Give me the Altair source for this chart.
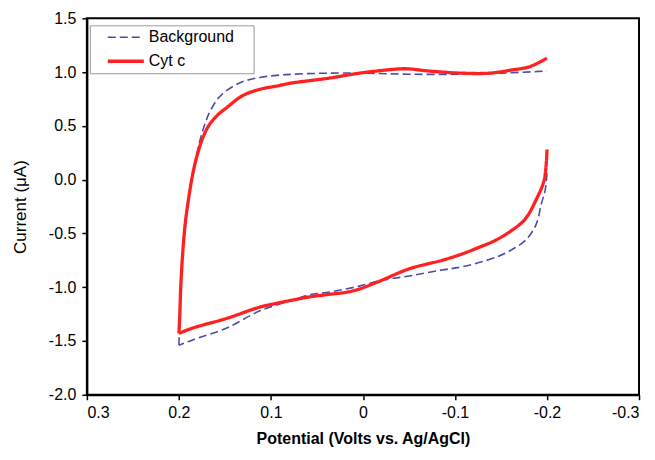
import altair as alt
import pandas as pd

series_names = ["Background", "Cyt c"]

# Background (dashed): lower branch from -0.2 V to 0.2 V
bg_low_x = [-0.200, -0.198, -0.194, -0.188, -0.177, -0.162, -0.145, -0.108, -0.086, -0.054,
            -0.032, -0.018, 0.004, 0.040, 0.058, 0.0765, 0.112, 0.148, 0.185, 0.200]
bg_low_y = [0.06, -0.10, -0.22, -0.42, -0.56, -0.65, -0.72, -0.81, -0.84, -0.89,
            -0.92, -0.94, -0.99, -1.05, -1.07, -1.12, -1.22, -1.38, -1.49, -1.54]
# Background: rise at 0.2 V and upper branch back to -0.2 V
bg_up_x = [0.200, 0.199, 0.198, 0.196, 0.193, 0.189, 0.185, 0.181, 0.177, 0.172, 0.167,
           0.158, 0.148, 0.131, 0.112, 0.094, 0.0765, 0.040, 0.000, -0.050, -0.108,
           -0.150, -0.200]
bg_up_y = [-1.54, -1.25, -1.00, -0.70, -0.40, -0.15, 0.05, 0.22, 0.37, 0.51, 0.62,
           0.75, 0.83, 0.91, 0.95, 0.97, 0.98, 0.99, 0.99, 0.98, 0.98,
           0.99, 1.01]

# Cyt c (red): lower branch
cyt_low_x = [-0.200, -0.197, -0.188, -0.176, -0.162, -0.145, -0.126, -0.108, -0.086, -0.050,
             -0.015, 0.011, 0.040, 0.058, 0.0765, 0.094, 0.112, 0.148, 0.185, 0.200]
cyt_low_y = [0.28, 0.00, -0.19, -0.37, -0.47, -0.56, -0.63, -0.69, -0.75, -0.83,
             -0.955, -1.035, -1.07, -1.09, -1.12, -1.15, -1.185, -1.29, -1.38, -1.43]
# Cyt c: rise and upper branch
cyt_up_x = [0.200, 0.199, 0.198, 0.196, 0.193, 0.189, 0.185, 0.181, 0.174, 0.167, 0.158,
            0.148, 0.131, 0.112, 0.094, 0.0765, 0.040, 0.004, -0.015, -0.040, -0.050,
            -0.072, -0.108, -0.137, -0.162, -0.181, -0.200]
cyt_up_y = [-1.43, -1.25, -1.00, -0.70, -0.40, -0.15, 0.05, 0.20, 0.39, 0.51, 0.60,
            0.67, 0.78, 0.84, 0.87, 0.90, 0.94, 0.99, 1.01, 1.03, 1.03,
            1.01, 0.99, 0.99, 1.02, 1.05, 1.13]

x_ticks = [0.3, 0.2, 0.1, 0.0, -0.1, -0.2, -0.3]
y_ticks = [1.5, 1.0, 0.5, 0.0, -0.5, -1.0, -1.5, -2.0]

rows = []
def add(series, seg, xs, ys):
    for i, (x, y) in enumerate(zip(xs, ys)):
        rows.append({"series": series, "seg": seg, "idx": i, "potential": x, "current": y})

add("Background", "low", bg_low_x, bg_low_y)
add("Background", "up", bg_up_x, bg_up_y)
add("Cyt c", "low", cyt_low_x, cyt_low_y)
add("Cyt c", "up", cyt_up_x, cyt_up_y)
df = pd.DataFrame(rows)

x_label_expr = "abs(datum.value) < 1e-9 ? '0' : (datum.value < 0 ? '-' : '') + format(abs(datum.value), '.1f')"
y_label_expr = "(datum.value < -1e-9 ? '-' : '') + format(abs(datum.value), '.1f')"

legend = alt.Legend(
    title="\u00a0", titleOrient="right", titlePadding=16, titleFontSize=4,
    orient="none", legendX=3, legendY=7,
    symbolType="stroke", symbolSize=1300, symbolOffset=12, clipHeight=16,
    labelFontSize=16, labelFont="Liberation Sans", labelColor="black", labelOffset=3,
    strokeColor="#9a9a9a", fillColor="white", padding=4, rowPadding=8,
)

chart = alt.Chart(df).mark_line(clip=True, interpolate="catmull-rom").encode(
    x=alt.X("potential:Q",
            scale=alt.Scale(domain=[-0.3, 0.3], reverse=True, nice=False, zero=False),
            axis=alt.Axis(values=x_ticks, labelExpr=x_label_expr,
                          title="Potential (Volts vs. Ag/AgCl)",
                          titleFontWeight="bold", titleFontSize=16, titlePadding=10,
                          labelPadding=5)),
    y=alt.Y("current:Q",
            scale=alt.Scale(domain=[-2.0, 1.5], nice=False, zero=False),
            axis=alt.Axis(values=y_ticks, labelExpr=y_label_expr,
                          title="Current (μA)", titleFontWeight="normal",
                          titleFontSize=17, titlePadding=19, labelPadding=6)),
    color=alt.Color("series:N", scale=alt.Scale(domain=series_names, range=["#4d4da8", "#ff2020"]),
                    legend=legend),
    strokeDash=alt.StrokeDash("series:N", scale=alt.Scale(domain=series_names, range=[[8, 4], [1, 0]]),
                              legend=legend),
    strokeWidth=alt.StrokeWidth("series:N", scale=alt.Scale(domain=series_names, range=[1.6, 3.3]),
                                legend=legend),
    detail="seg:N",
    order="idx:Q",
).properties(
    width=553, height=377,
    autosize=alt.AutoSizeParams(type="none"),
    padding={"left": 79, "top": 10, "right": 8, "bottom": 58},
).configure_view(
    stroke="black", strokeWidth=2
).configure_axis(
    grid=False, domainColor="black", domainWidth=2, tickColor="black", tickWidth=1.5,
    tickSize=5, labelFont="Liberation Sans", labelFontSize=16, labelColor="black",
    titleFont="Liberation Sans", titleColor="black",
)

chart.save("out.html", embed_options={"renderer": "svg", "actions": False})
